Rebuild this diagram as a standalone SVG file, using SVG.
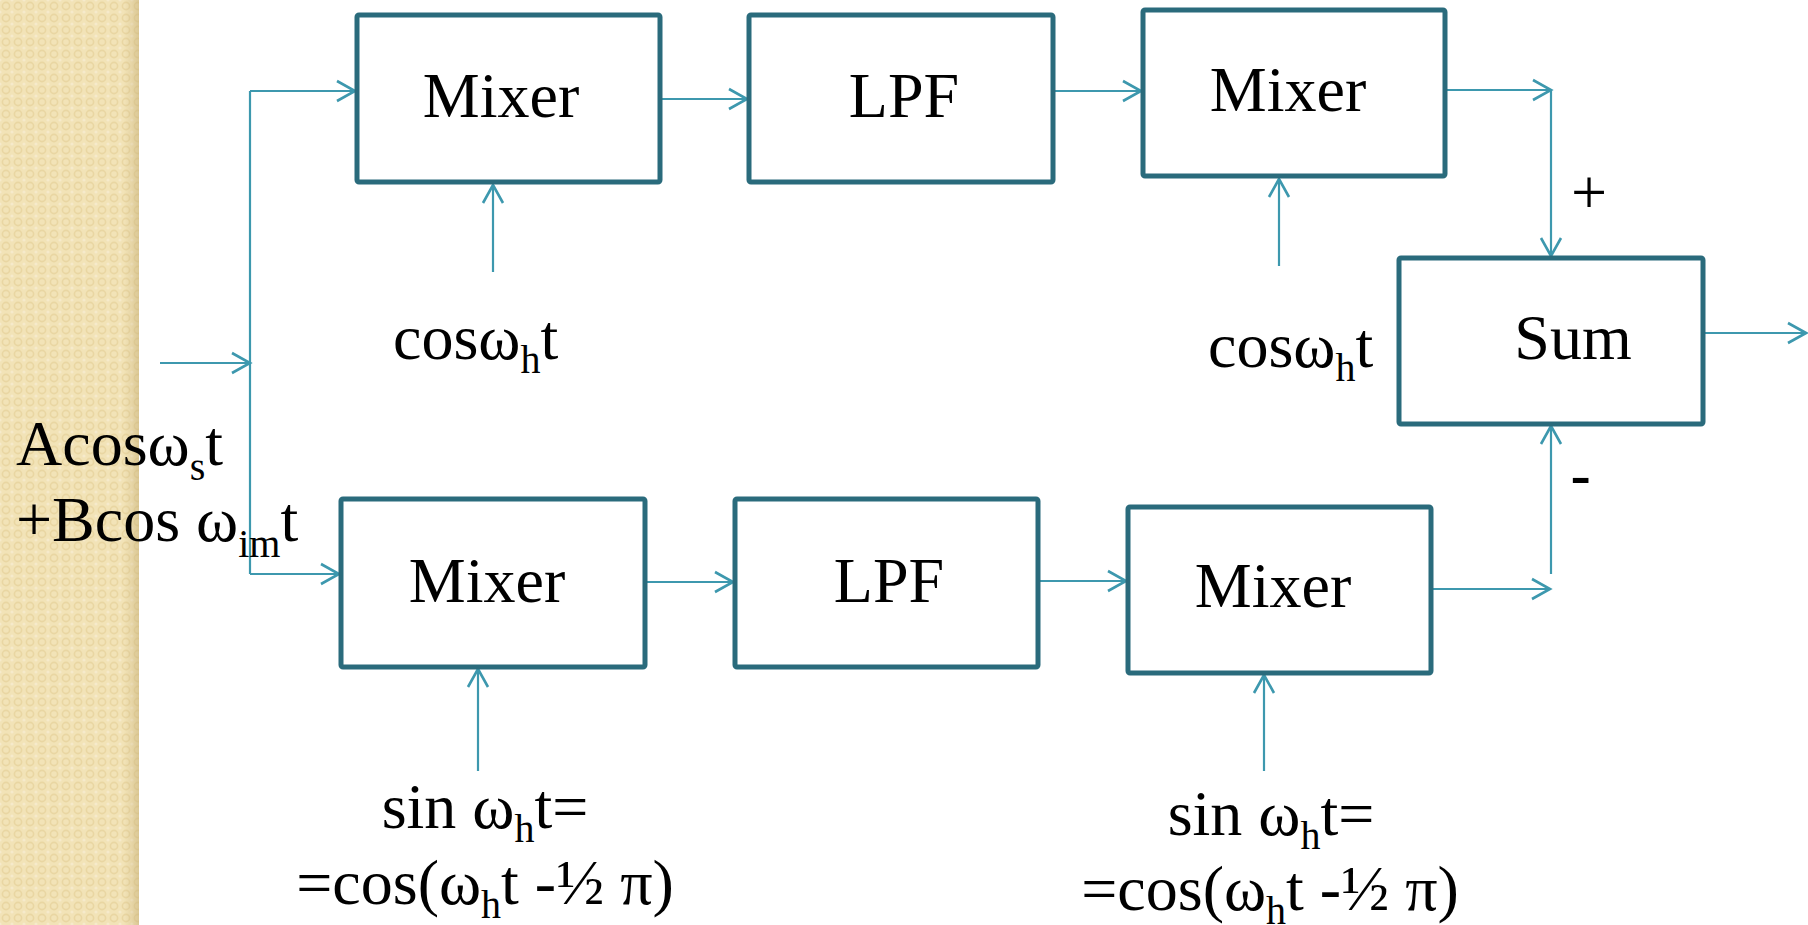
<svg xmlns="http://www.w3.org/2000/svg" width="1808" height="925" viewBox="0 0 1808 925">
  <defs>
    <style>
      .box { fill: #ffffff; stroke: #2a6b7c; stroke-width: 5; }
      .lbl { font-size: 64px; fill: #000000; }
      .cn { fill: none; stroke: #3d98ae; stroke-width: 2.2; }
    </style>
    <pattern id="dots" x="0" y="0" width="12" height="12" patternUnits="userSpaceOnUse">
      <rect width="12" height="12" fill="#f2e3b7"/>
      <circle cx="6" cy="6" r="3.6" fill="none" stroke="#e9d6a2" stroke-width="1.6"/>
      <circle cx="0" cy="0" r="1.6" fill="#f6eacb"/>
      <circle cx="12" cy="0" r="1.6" fill="#f6eacb"/>
      <circle cx="0" cy="12" r="1.6" fill="#f6eacb"/>
      <circle cx="12" cy="12" r="1.6" fill="#f6eacb"/>
    </pattern>
    <linearGradient id="edge" x1="0" y1="0" x2="1" y2="0">
      <stop offset="0" stop-color="#c9b27a" stop-opacity="0"/>
      <stop offset="1" stop-color="#c9b27a" stop-opacity="0.55"/>
    </linearGradient>
    <marker id="arr" markerUnits="userSpaceOnUse" viewBox="-22 -13 26 26" refX="0" refY="0" markerWidth="26" markerHeight="26" orient="auto">
      <path d="M-18,-10 L0,0 L-18,10" fill="none" stroke="#3d98ae" stroke-width="2.6"/>
    </marker>
  </defs>

  <rect x="0" y="0" width="1808" height="925" fill="#ffffff"/>
  <rect x="0" y="0" width="139" height="925" fill="url(#dots)"/>
  <rect x="124" y="0" width="15" height="925" fill="url(#edge)"/>

  <g id="connectors">
    <path class="cn" d="M160,363 H250" marker-end="url(#arr)"/>
    <path class="cn" d="M250,91 V574"/>
    <path class="cn" d="M250,91 H355" marker-end="url(#arr)"/>
    <path class="cn" d="M250,574 H339" marker-end="url(#arr)"/>
    <path class="cn" d="M493,272 V185" marker-end="url(#arr)"/>
    <path class="cn" d="M661,99 H747" marker-end="url(#arr)"/>
    <path class="cn" d="M1053,91 H1141" marker-end="url(#arr)"/>
    <path class="cn" d="M1279,266 V179" marker-end="url(#arr)"/>
    <path class="cn" d="M1445,90 H1551" marker-end="url(#arr)"/>
    <path class="cn" d="M1551,90 V256" marker-end="url(#arr)"/>
    <path class="cn" d="M1703,333 H1806" marker-end="url(#arr)"/>
    <path class="cn" d="M1431,589 H1550" marker-end="url(#arr)"/>
    <path class="cn" d="M1551,574 V426" marker-end="url(#arr)"/>
    <path class="cn" d="M478,771 V669" marker-end="url(#arr)"/>
    <path class="cn" d="M645,582 H733" marker-end="url(#arr)"/>
    <path class="cn" d="M1038,581 H1126" marker-end="url(#arr)"/>
    <path class="cn" d="M1264,771 V675" marker-end="url(#arr)"/>
  </g>

  <g font-family="Liberation Serif, Times New Roman, DejaVu Serif, serif">
  <g id="mixer1">
    <rect class="box" x="357" y="15" width="303" height="167" rx="2"/>
    <text class="lbl" x="501" y="117" text-anchor="middle">Mixer</text>
  </g>
  <g id="lpf1">
    <rect class="box" x="749" y="15" width="304" height="167" rx="2"/>
    <text class="lbl" x="904" y="117" text-anchor="middle">LPF</text>
  </g>
  <g id="mixer2">
    <rect class="box" x="1143" y="10" width="302" height="166" rx="2"/>
    <text class="lbl" x="1288" y="111" text-anchor="middle">Mixer</text>
  </g>
  <g id="sum">
    <rect class="box" x="1399" y="258" width="304" height="166" rx="2"/>
    <text class="lbl" x="1573" y="359" text-anchor="middle">Sum</text>
  </g>
  <g id="mixer3">
    <rect class="box" x="341" y="499" width="304" height="168" rx="2"/>
    <text class="lbl" x="487" y="602" text-anchor="middle">Mixer</text>
  </g>
  <g id="lpf2">
    <rect class="box" x="735" y="499" width="303" height="168" rx="2"/>
    <text class="lbl" x="889" y="602" text-anchor="middle">LPF</text>
  </g>
  <g id="mixer4">
    <rect class="box" x="1128" y="507" width="303" height="166" rx="2"/>
    <text class="lbl" x="1273" y="607" text-anchor="middle">Mixer</text>
  </g>

  <g id="labels">
    <text class="lbl" x="393" y="359">cosω<tspan font-size="40" dy="14">h</tspan><tspan dy="-14">t</tspan></text>
    <text class="lbl" x="1208" y="367">cosω<tspan font-size="40" dy="14">h</tspan><tspan dy="-14">t</tspan></text>
    <text class="lbl" x="16" y="465">Acosω<tspan font-size="40" dy="15">s</tspan><tspan dy="-15">t</tspan></text>
    <text class="lbl" x="16" y="541">+Bcos ω<tspan font-size="40" dy="16">im</tspan><tspan dy="-16">t</tspan></text>
    <text class="lbl" x="485" y="828" text-anchor="middle">sin ω<tspan font-size="40" dy="14">h</tspan><tspan dy="-14">t=</tspan></text>
    <text class="lbl" x="485" y="904" text-anchor="middle">=cos(ω<tspan font-size="40" dy="14">h</tspan><tspan dy="-14">t -½ π)</tspan></text>
    <text class="lbl" x="1271" y="835" text-anchor="middle">sin ω<tspan font-size="40" dy="14">h</tspan><tspan dy="-14">t=</tspan></text>
    <text class="lbl" x="1270" y="910" text-anchor="middle">=cos(ω<tspan font-size="40" dy="14">h</tspan><tspan dy="-14">t -½ π)</tspan></text>
    <text class="lbl" x="1571" y="214">+</text>
    <text x="1570" y="498" font-family="Liberation Sans, Arial, sans-serif" font-size="64" fill="#000000">-</text>
  </g>
  </g>
</svg>
